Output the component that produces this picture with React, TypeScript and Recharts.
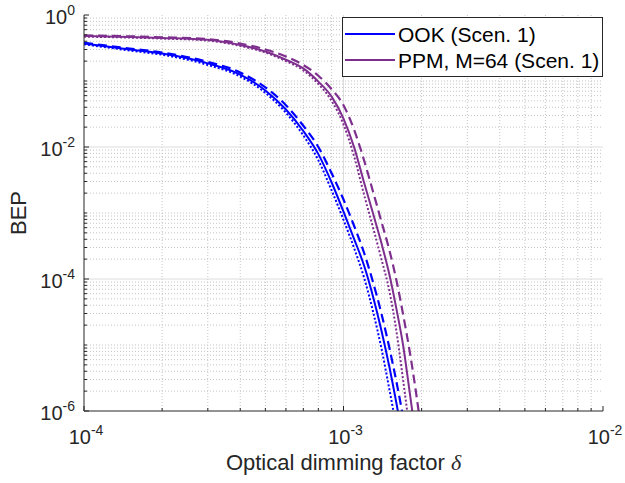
import React from 'react';
import { LineChart, Line, XAxis, YAxis, CartesianGrid, Legend, Label } from 'recharts';

// ---- data ----
const dimming = [1e-4, 1.5e-4, 2e-4, 3e-4, 4e-4, 5e-4, 6e-4, 7e-4, 8e-4, 9e-4, 1e-3, 1.1e-3, 1.2e-3, 1.3e-3, 1.4e-3, 1.5e-3, 1.6e-3, 1.7e-3, 1.8e-3, 1.9e-3, 2.0e-3];

const ookSolid = [0.37, 0.30, 0.26, 0.185, 0.125, 0.072, 0.037, 0.0175, 0.0078, 2.9e-3, 1.05e-3, 4.0e-4, 1.6e-4, 5.4e-5, 1.66e-5, 4.8e-6, 1.3e-6, 3.5e-7, null, null, null];
const ookDotted = [0.36, 0.29, 0.25, 0.175, 0.117, 0.066, 0.033, 0.015, 6.3e-3, 2.2e-3, 7.9e-4, 2.9e-4, 1.05e-4, 3.2e-5, 8.9e-6, 2.2e-6, 5.6e-7, null, null, null, null];
const ookDashed = [0.38, 0.31, 0.27, 0.195, 0.135, 0.080, 0.043, 0.021, 0.0100, 4.0e-3, 1.6e-3, 6.3e-4, 2.5e-4, 8.9e-5, 3.0e-5, 9.3e-6, 2.75e-6, 7.9e-7, null, null, null];

const ppmSolid = [0.48, 0.465, 0.45, 0.42, 0.35, 0.28, 0.21, 0.155, 0.098, 0.058, 0.027, 9.8e-3, 2.9e-3, 9.8e-4, 3.5e-4, 1.2e-4, 3.5e-5, 9.5e-6, 1.9e-6, 4.0e-7, null];
const ppmDotted = [0.47, 0.455, 0.44, 0.41, 0.34, 0.27, 0.20, 0.145, 0.090, 0.050, 0.022, 7.1e-3, 1.9e-3, 6.0e-4, 2.0e-4, 6.8e-5, 1.6e-5, 2.8e-6, 5.0e-7, null, null];
const ppmDashed = [0.49, 0.475, 0.46, 0.43, 0.37, 0.30, 0.235, 0.175, 0.12, 0.075, 0.043, 0.018, 6.3e-3, 2.1e-3, 7.4e-4, 2.8e-4, 9.5e-5, 2.8e-5, 7.9e-6, 2.0e-6, 4.5e-7];

const legendLabels = ['OOK (Scen. 1)', 'PPM, M=64 (Scen. 1)'];

// ---- ticks ----
const mantissas = [1, 2, 3, 4, 5, 6, 7, 8, 9];
const xDecades = [-4, -3];
const yDecades = [-6, -5, -4, -3, -2, -1];
const xLabelledExp = [-4, -3, -2];
const yLabelledExp = [-6, -4, -2, 0];

const xTicks = [...xDecades.flatMap((k) => mantissas.map((m) => m * Math.pow(10, k))), 1e-2];
const yTicks = [...yDecades.flatMap((k) => mantissas.map((m) => m * Math.pow(10, k))), 1];

const expOf = (v: number) => Math.round(Math.log10(v));
const isPow10 = (v: number) => Math.abs(Math.log10(v) - expOf(v)) < 1e-6;
const isMajorX = (v: number) => isPow10(v) && xLabelledExp.includes(expOf(v));
const isMajorY = (v: number) => isPow10(v) && yLabelledExp.includes(expOf(v));

const xMajorGrid = xTicks.filter((v) => isMajorX(v) && v > 1e-4 && v < 1e-2);
const xMinorGrid = xTicks.filter((v) => !isMajorX(v));
const yMajorGrid = yTicks.filter((v) => isMajorY(v) && v > 1e-6 && v < 1);
const yMinorGrid = yTicks.filter((v) => !isMajorY(v));

const rows = dimming.map((x, i) => ({
  x,
  ookSolid: ookSolid[i],
  ookDotted: ookDotted[i],
  ookDashed: ookDashed[i],
  ppmSolid: ppmSolid[i],
  ppmDotted: ppmDotted[i],
  ppmDashed: ppmDashed[i],
}));

const FONT = '"Liberation Sans", Arial, Helvetica, sans-serif';
const AXIS = '#262626';
const BLUE = '#0000ff';
const PURPLE = '#7e2f8e';

const XTickBottom = (props: any) => {
  const { x, y, payload } = props;
  const v = payload.value;
  const major = isMajorX(v);
  return (
    <g>
      <line x1={x} x2={x} y1={y} y2={y - (major ? 5 : 3)} stroke={AXIS} strokeWidth={1} />
      {major && (
        <text x={x + 2} y={y + 33} textAnchor="middle" fill={AXIS} fontFamily={FONT} fontSize={20}>
          10<tspan dy={-9} fontSize={14}>{String(expOf(v))}</tspan>
        </text>
      )}
    </g>
  );
};

const XTickTop = (props: any) => {
  const { x, y, payload } = props;
  const major = isMajorX(payload.value);
  return <line x1={x} x2={x} y1={y} y2={y + (major ? 5 : 3)} stroke={AXIS} strokeWidth={1} />;
};

const YTickLeft = (props: any) => {
  const { x, y, payload } = props;
  const v = payload.value;
  const major = isMajorY(v);
  return (
    <g>
      <line x1={x} x2={x + (major ? 5 : 3)} y1={y} y2={y} stroke={AXIS} strokeWidth={1} />
      {major && (
        <text x={x - 9} y={y + 9} textAnchor="end" fill={AXIS} fontFamily={FONT} fontSize={20}>
          10<tspan dy={-9} fontSize={14}>{String(expOf(v))}</tspan>
        </text>
      )}
    </g>
  );
};

const YTickRight = (props: any) => {
  const { x, y, payload } = props;
  const major = isMajorY(payload.value);
  return <line x1={x} x2={x - (major ? 5 : 3)} y1={y} y2={y} stroke={AXIS} strokeWidth={1} />;
};

const LegendBox = () => (
  <div
    style={{
      position: 'relative',
      width: 261,
      height: 60,
      border: `1px solid ${AXIS}`,
      boxSizing: 'border-box',
      background: '#fff',
      fontFamily: FONT,
      fontSize: 21,
      color: '#000',
    }}
  >
    <svg style={{ position: 'absolute', left: 0, top: 0 }} width={259} height={58}>
      <line x1={2} x2={52} y1={16} y2={16} stroke={BLUE} strokeWidth={2} />
      <line x1={2} x2={52} y1={42} y2={42} stroke={PURPLE} strokeWidth={2} />
    </svg>
    <div style={{ position: 'absolute', left: 55, top: 16, transform: 'translateY(-50%)', lineHeight: 1, whiteSpace: 'nowrap' }}>
      {legendLabels[0]}
    </div>
    <div style={{ position: 'absolute', left: 55, top: 42, transform: 'translateY(-50%)', lineHeight: 1, whiteSpace: 'nowrap' }}>
      {legendLabels[1]}
    </div>
  </div>
);

const XLabel = (props: any) => {
  const vb = props.viewBox || { x: 84, y: 411, width: 519, height: 72 };
  return (
    <text x={vb.x + vb.width / 2} y={vb.y + 59} textAnchor="middle" fill={AXIS} fontFamily={FONT} fontSize={22}>
      Optical dimming factor{' '}
      <tspan fontFamily='"Liberation Serif", "Times New Roman", serif' fontStyle="italic">δ</tspan>
    </text>
  );
};

const YLabel = (props: any) => {
  const vb = props.viewBox || { x: 0, y: 15, width: 84, height: 396 };
  const cx = vb.x + 26;
  const cy = vb.y + vb.height / 2;
  return (
    <text x={cx} y={cy} textAnchor="middle" fill={AXIS} fontFamily={FONT} fontSize={22} transform={`rotate(-90, ${cx}, ${cy})`}>
      BEP
    </text>
  );
};

export default function App() {
  return (
    <div style={{ position: 'absolute', left: 0, top: 0, width: 625, height: 483, background: '#fff' }}>
      <LineChart width={625} height={483} data={rows} margin={{ top: 15, right: 22, bottom: 0, left: 0 }}>
        <CartesianGrid horizontalValues={yMinorGrid} verticalValues={xMinorGrid} stroke="#c4c4c4" strokeDasharray="1 2" />
        <CartesianGrid horizontalValues={yMajorGrid} verticalValues={xMajorGrid} stroke="#dcdcdc" />
        <XAxis
          dataKey="x"
          type="number"
          scale="log"
          domain={[1e-4, 1e-2]}
          allowDataOverflow
          ticks={xTicks}
          interval={0}
          height={72}
          tickSize={0}
          tickMargin={0}
          tickLine={false}
          axisLine={{ stroke: AXIS }}
          tick={<XTickBottom />}
        >
          <Label content={<XLabel />} />
        </XAxis>
        <XAxis
          xAxisId="top"
          orientation="top"
          dataKey="x"
          type="number"
          scale="log"
          domain={[1e-4, 1e-2]}
          allowDataOverflow
          ticks={xTicks}
          interval={0}
          height={0}
          tickSize={0}
          tickMargin={0}
          tickLine={false}
          axisLine={{ stroke: AXIS }}
          tick={<XTickTop />}
        />
        <YAxis
          type="number"
          scale="log"
          domain={[1e-6, 1]}
          allowDataOverflow
          ticks={yTicks}
          interval={0}
          width={84}
          tickSize={0}
          tickMargin={0}
          tickLine={false}
          axisLine={{ stroke: AXIS }}
          tick={<YTickLeft />}
        >
          <Label content={<YLabel />} />
        </YAxis>
        <YAxis
          yAxisId="right"
          orientation="right"
          type="number"
          scale="log"
          domain={[1e-6, 1]}
          allowDataOverflow
          ticks={yTicks}
          interval={0}
          width={0}
          tickSize={0}
          tickMargin={0}
          tickLine={false}
          axisLine={{ stroke: AXIS }}
          tick={<YTickRight />}
        />
        <Legend
          layout="horizontal"
          verticalAlign="middle"
          align="center"
          content={<LegendBox />}
          wrapperStyle={{ left: 342, top: 17, width: 261, height: 60 }}
        />
        <Line type="monotone" dataKey="ookDotted" stroke={BLUE} strokeWidth={2} strokeDasharray="2 2" dot={false} isAnimationActive={false} legendType="none" />
        <Line type="monotone" dataKey="ookDashed" stroke={BLUE} strokeWidth={2.2} strokeDasharray="9 5" dot={false} isAnimationActive={false} legendType="none" />
        <Line type="monotone" dataKey="ookSolid" stroke={BLUE} strokeWidth={2} dot={false} isAnimationActive={false} name={legendLabels[0]} />
        <Line type="monotone" dataKey="ppmDotted" stroke={PURPLE} strokeWidth={2} strokeDasharray="2 2" dot={false} isAnimationActive={false} legendType="none" />
        <Line type="monotone" dataKey="ppmDashed" stroke={PURPLE} strokeWidth={2.2} strokeDasharray="9 5" dot={false} isAnimationActive={false} legendType="none" />
        <Line type="monotone" dataKey="ppmSolid" stroke={PURPLE} strokeWidth={2} dot={false} isAnimationActive={false} name={legendLabels[1]} />
      </LineChart>
    </div>
  );
}
